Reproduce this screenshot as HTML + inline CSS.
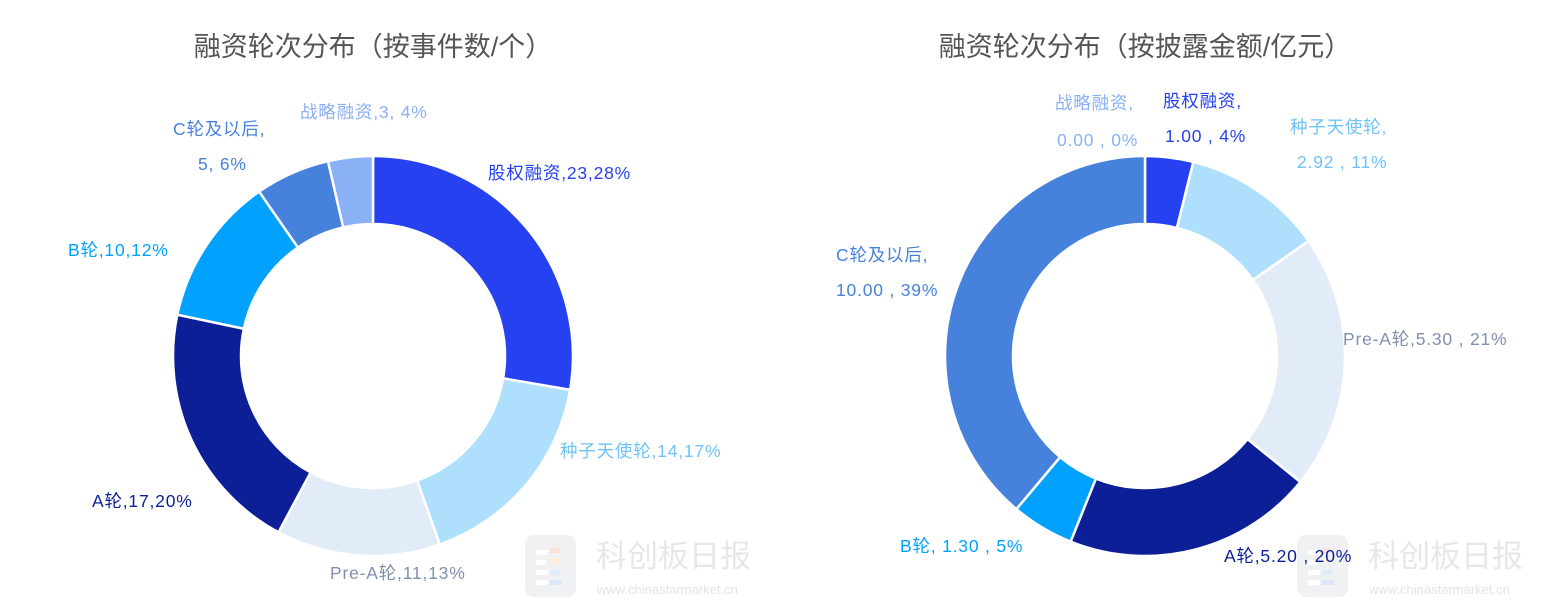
<!DOCTYPE html>
<html><head><meta charset="utf-8">
<style>
html,body{margin:0;padding:0;background:#fff;}
body{width:1545px;height:610px;overflow:hidden;position:relative;font-family:"Liberation Sans","Noto Sans CJK SC",sans-serif;}
svg{position:absolute;left:0;top:0;}
.lbl{font-size:17.5px;letter-spacing:0.8px;font-family:"Liberation Sans","Noto Sans CJK SC",sans-serif;}
</style></head>
<body>
<svg id="chart" width="1545" height="610">
  <text x="373" y="56" text-anchor="middle" font-size="27" fill="#555">融资轮次分布（按事件数/个）</text>
  <text x="1145" y="56" text-anchor="middle" font-size="27" fill="#555">融资轮次分布（按披露金额/亿元）</text>
  <g>
    <rect x="525" y="535" width="51" height="62" rx="9" fill="#f0f1f3"/>
    <rect x="536" y="550" width="12" height="5" fill="#fff"/><rect x="550" y="548" width="10" height="5" fill="#fbe1dc"/>
    <rect x="536" y="560" width="10" height="5" fill="#fff"/><rect x="549" y="558" width="12" height="5" fill="#fdf0dc"/>
    <rect x="536" y="570" width="12" height="5" fill="#fff"/><rect x="550" y="570" width="10" height="5" fill="#dcecfa"/>
    <rect x="536" y="580" width="12" height="5" fill="#fff"/><rect x="550" y="580" width="12" height="5" fill="#dce6f5"/>
    <text x="596" y="567" font-size="31" fill="#e6e7ea">科创板日报</text>
    <text x="597" y="594" font-size="13" fill="#e3e4e7">www.chinastarmarket.cn</text>
  </g>
  <g>
    <rect x="1297" y="535" width="51" height="62" rx="9" fill="#f0f1f3"/>
    <rect x="1308" y="550" width="12" height="5" fill="#fff"/><rect x="1322" y="548" width="10" height="5" fill="#fbe1dc"/>
    <rect x="1308" y="560" width="10" height="5" fill="#fff"/><rect x="1321" y="558" width="12" height="5" fill="#fdf0dc"/>
    <rect x="1308" y="570" width="12" height="5" fill="#fff"/><rect x="1322" y="570" width="10" height="5" fill="#dcecfa"/>
    <rect x="1308" y="580" width="12" height="5" fill="#fff"/><rect x="1322" y="580" width="12" height="5" fill="#dce6f5"/>
    <text x="1368" y="567" font-size="31" fill="#e6e7ea">科创板日报</text>
    <text x="1369" y="594" font-size="13" fill="#e3e4e7">www.chinastarmarket.cn</text>
  </g>
  <g id="donut-left"></g>
  <g id="donut-right"></g>

  <g class="lbl">
    <text x="488" y="179" fill="#2541f0">股权融资,23,28%</text>
    <text x="560" y="457" fill="#6fc3f7">种子天使轮,14,17%</text>
    <text x="330" y="579" fill="#8190ae">Pre-A轮,11,13%</text>
    <text x="92" y="507" fill="#0c1f96">A轮,17,20%</text>
    <text x="68" y="256" fill="#00a2fe">B轮,10,12%</text>
    <text x="173" y="135" fill="#4682dc">C轮及以后,</text>
    <text x="198" y="170" fill="#4682dc">5, 6%</text>
    <text x="300" y="118" fill="#8ab0f5">战略融资,3, 4%</text>
  </g>
  <g class="lbl">
    <text x="1055" y="109" fill="#8ab0f5">战略融资,</text>
    <text x="1057" y="146" fill="#8ab0f5">0.00 , 0%</text>
    <text x="1163" y="107" fill="#2541f0">股权融资,</text>
    <text x="1165" y="142" fill="#2541f0">1.00 , 4%</text>
    <text x="1290" y="133" fill="#6fc3f7">种子天使轮,</text>
    <text x="1297" y="168" fill="#6fc3f7">2.92 , 11%</text>
    <text x="836" y="261" fill="#4682dc">C轮及以后,</text>
    <text x="836" y="296" fill="#4682dc">10.00 , 39%</text>
    <text x="1343" y="345" fill="#8190ae">Pre-A轮,5.30 , 21%</text>
    <text x="1224" y="562" fill="#0c1f96">A轮,5.20 , 20%</text>
    <text x="900" y="552" fill="#00a2fe">B轮, 1.30 , 5%</text>
  </g>
</svg>
<script>
const categories = ["股权融资","种子天使轮","Pre-A轮","A轮","B轮","C轮及以后","战略融资"];
const countValues = [23,14,11,17,10,5,3];
const amountValues = [1.00,2.92,5.30,5.20,1.30,10.00,0.00];
const sliceColors = ["#2541f0","#aee0fd","#e2ecf8","#0c1f96","#00a2fe","#4682dc","#8ab0f5"];
const sliceKeys = ["equity","seed","prea","a","b","c","strategic"];

function angleScale(vals){
  const total = vals.reduce((a,b)=>a+b,0);
  return v => v/total*Math.PI*2;
}
function pt(cx,cy,r,a){return [cx+r*Math.sin(a), cy-r*Math.cos(a)];}
function drawDonut(gid, vals, cx, cy, ro, ri, prefix){
  const g = document.getElementById(gid);
  const sc = angleScale(vals);
  let a0 = 0;
  vals.forEach((v,i)=>{
    const a1 = a0 + sc(v);
    if (v > 0){
      const large = (a1-a0) > Math.PI ? 1 : 0;
      const [x1,y1]=pt(cx,cy,ro,a0),[x2,y2]=pt(cx,cy,ro,a1),[x3,y3]=pt(cx,cy,ri,a1),[x4,y4]=pt(cx,cy,ri,a0);
      const p = document.createElementNS("http://www.w3.org/2000/svg","path");
      p.setAttribute("d",`M${x1},${y1}A${ro},${ro} 0 ${large} 1 ${x2},${y2}L${x3},${y3}A${ri},${ri} 0 ${large} 0 ${x4},${y4}Z`);
      p.setAttribute("fill",sliceColors[i]);
      p.setAttribute("stroke","#fff");
      p.setAttribute("stroke-width","2.5");
      
      
      g.appendChild(p);
    }
    a0 = a1;
  });
}
drawDonut("donut-left", countValues, 373, 356, 200, 132, "count");
drawDonut("donut-right", amountValues, 1145, 356, 200, 132, "amount");
</script>
</body></html>
